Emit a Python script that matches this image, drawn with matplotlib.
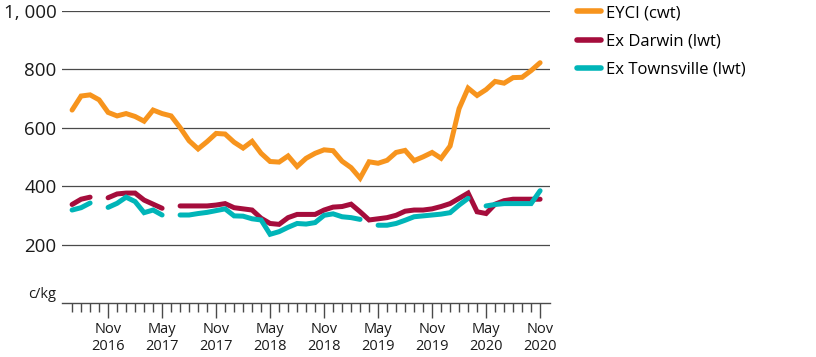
"""Cattle price indicators: EYCI vs Ex Darwin / Ex Townsville (c/kg)."""

import matplotlib

matplotlib.use("Agg")
import matplotlib.pyplot as plt
import numpy as np
import pandas as pd

ORANGE = "#f7941d"
MAROON = "#a50d3c"
TEAL = "#00b5b8"
GRID = "#4a4a4a"
INK = "#1a1a1a"

# monthly, Jul 2016 .. Nov 2020
months = pd.date_range("2016-07-01", "2020-11-01", freq="MS")

eyci = [
    660, 708, 712, 695, 652, 640, 648, 638, 622, 660, 648, 640,
    600, 555, 527, 552, 580, 578, 550, 530, 553, 512, 484, 482,
    503, 467, 495, 512, 524, 521, 485, 463, 427, 483, 478, 488,
    515, 522, 487, 500, 515, 495, 537, 665, 735, 710, 730, 758,
    752, 771, 772, 795, 822,
]

nan = np.nan
ex_darwin = [
    337, 355, 362, nan, 360, 373, 376, 376, 352, 338, 324, nan,
    332, 332, 332, 332, 335, 340, 326, 322, 318, 290, 272, 269,
    292, 303, 303, 303, 318, 328, 330, 338, 312, 284, 288, 292,
    300, 314, 318, 318, 322, 330, 340, 358, 376, 312, 306, 338,
    350, 355, 355, 355, 355,
]

ex_townsville = [
    318, 326, 342, nan, 327, 341, 362, 347, 309, 318, 301, nan,
    301, 301, 306, 310, 316, 322, 298, 297, 288, 284, 235, 244,
    259, 272, 270, 275, 300, 305, 295, 292, 286, nan, 266, 266,
    272, 283, 295, 298, 301, 304, 309, 335, 358, nan, 332, 337,
    340, 340, 340, 340, 384,
]

series = [
    ("EYCI (cwt)", eyci, ORANGE),
    ("Ex Darwin (lwt)", ex_darwin, MAROON),
    ("Ex Townsville (lwt)", ex_townsville, TEAL),
]

plt.rcParams.update({"font.family": ["Open Sans", "DejaVu Sans"]})

fig = plt.figure(figsize=(8.16, 3.57), dpi=100, facecolor="white")
ax = fig.add_axes([0.076, 0.1513, 0.598, 0.8188])

x = np.arange(len(months))
for label, values, color in series:
    ax.plot(x, values, color=color, linewidth=3.6, label=label,
            solid_capstyle="round", solid_joinstyle="miter", clip_on=False, zorder=3)

ax.set_ylim(0, 1000)
ax.set_xlim(-1.12, 53.1)
ax.set_yticks([200, 400, 600, 800, 1000])
ax.set_yticklabels(["200", "400", "600", "800", "1, 000"])
ax.tick_params(axis="y", length=0, pad=4, labelsize=13.5, labelcolor=INK)
ax.grid(axis="y", color=GRID, linewidth=0.9)
ax.set_axisbelow(True)

for side in ["top", "right", "left"]:
    ax.spines[side].set_visible(False)
ax.spines["bottom"].set_color(GRID)
ax.spines["bottom"].set_linewidth(1.0)

major = [i for i, m in enumerate(months) if m.month in (5, 11)]
ax.set_xticks(major)
ax.set_xticklabels([f"{m:%b}\n{m:%Y}" for m in months[major]], fontsize=10.5,
                   color=INK, linespacing=1.15)
ax.set_xticks(x, minor=True)
ax.tick_params(axis="x", which="major", length=11, width=1.0, color=GRID, pad=3)
ax.tick_params(axis="x", which="minor", length=6.5, width=1.0, color=GRID)

ax.text(-0.012, 0.005, "c/kg", transform=ax.transAxes, ha="right", va="bottom",
        fontsize=10.5, color=INK)

leg = ax.legend(loc="upper left", bbox_to_anchor=(1.025, 1.07), frameon=False,
                fontsize=12, handlelength=1.4, handletextpad=0.3, labelspacing=0.74)
for line in leg.get_lines():
    line.set_linewidth(4)
    line.set_solid_capstyle("round")

fig.savefig("out.png", dpi=100, facecolor="white")
